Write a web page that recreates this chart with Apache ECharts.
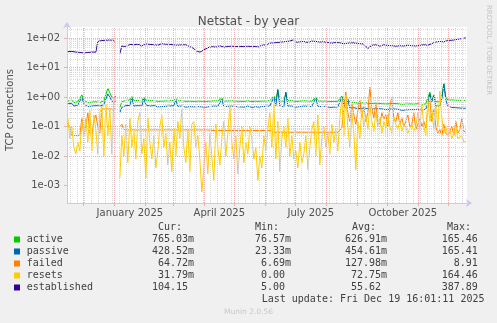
<!DOCTYPE html>
<html>
<head>
<meta charset="utf-8">
<script src="https://cdn.jsdelivr.net/npm/echarts@6/dist/echarts.min.js"></script>
<style>
  html, body { margin: 0; padding: 0; background: #f0f0f0; }
  #chart { width: 497px; height: 323px; }
</style>
</head>
<body>
<div id="chart"></div>
<script>
// Netstat yearly graph: one sample every two days, log-scaled connection counts.
const seriesNames = ['active', 'passive', 'failed', 'resets', 'established'];
const seriesColors = ['#00cc00', '#0066b3', '#ff8000', '#ffcc00', '#330099'];

const firstSample = Date.UTC(2024, 10, 15, 12);
const stepDays = 2;
const rangeStart = Date.UTC(2024, 10, 14, 16);
const rangeEnd = Date.UTC(2025, 11, 19, 16);

const active = [
  0.75,0.68,0.8,0.65,0.72,0.7,0.8,
  1.2,
  0.8,0.7,0.65,0.72,0.68,0.75,0.7,0.78,0.66,0.7,0.75,0.8,
  2.0,1.4,1.0,0.85,1.1,
  null,
  0.45,0.7,
  0.75,0.78,0.72,0.8,1.05,0.76,0.74,0.78,0.72,0.75,
  1.0,0.8,0.74,0.77,0.73,0.78,0.75,0.72,0.76,0.74,
  0.78,0.75,0.72,0.76,0.74,0.78,0.92,0.75,0.73,0.77,
  0.74,0.72,0.76,0.74,0.75,
  0.72,0.7,0.74,0.71,0.73,0.7,0.72,0.75,
  0.74,0.72,0.76,0.73,0.75,0.72,0.95,0.74,0.71,0.75,
  0.73,0.76,0.72,0.74,0.77,0.73,0.75,0.72,0.74,0.76,
  0.73,0.71,0.75,0.74,0.72,0.76,
  0.74,0.72,0.75,0.73,0.76,0.74,1.1,0.78,1.8,0.76,
  0.75,0.73,1.4,0.76,0.74,0.77,0.75,0.72,0.76,0.74,
  0.73,0.76,0.74,0.75,0.72,0.74,0.76,1.0,0.75,0.73,
  0.74,0.72,0.75,0.73,0.71,0.74,0.72,0.7,0.73,0.71,
  1.1,0.75,0.68,0.9,0.66,0.64,0.67,0.65,0.63,0.66,
  0.64,0.62,0.65,0.63,0.61,0.64,0.62,0.6,0.63,0.61,
  0.6,0.62,0.59,0.61,0.6,0.58,0.61,0.59,0.6,0.58,
  0.57,0.6,0.58,0.56,0.59,0.57,0.58,0.56,0.6,0.57,
  0.55,0.58,0.6,
  0.7,1.5,0.8,1.2,0.7,0.65,0.7,1.0,3.0,1.0,
  0.8,0.78,0.8,0.77,0.79,0.8,0.78,0.79,0.77,0.76503
];

const passive = [
  0.6,0.55,0.62,0.5,0.56,0.54,0.62,
  1.0,
  0.6,0.52,0.48,0.55,0.5,0.57,0.52,0.6,0.5,0.53,0.56,0.6,
  1.3,1.0,0.75,0.62,0.8,
  null,
  0.3,0.45,
  0.5,0.52,0.48,0.53,0.95,0.5,0.48,0.52,0.47,0.5,
  0.9,0.55,0.48,0.5,0.47,0.52,0.49,0.47,0.5,0.48,
  0.52,0.49,0.46,0.5,0.48,0.52,0.8,0.49,0.47,0.5,
  0.48,0.46,0.5,0.48,0.49,
  0.47,0.45,0.48,0.46,0.47,0.45,0.46,0.49,
  0.48,0.46,0.5,0.47,0.49,0.46,0.85,0.48,0.45,0.49,
  0.47,0.5,0.46,0.48,0.5,0.47,0.49,0.46,0.48,0.5,
  0.47,0.45,0.49,0.48,0.46,0.5,
  0.48,0.46,0.49,0.47,0.5,0.48,1.0,0.52,1.8,0.5,
  0.49,0.47,1.5,0.5,0.48,0.5,0.49,0.46,0.5,0.48,
  0.47,0.5,0.48,0.49,0.46,0.48,0.5,0.95,0.49,0.47,
  0.48,0.46,0.49,0.47,0.45,0.48,0.46,0.45,0.47,0.45,
  1.0,0.55,0.44,0.8,0.43,0.42,0.44,0.42,0.41,0.43,
  0.42,0.4,0.42,0.41,0.39,0.41,0.4,0.38,0.41,0.39,
  0.4,0.41,0.38,0.4,0.39,0.37,0.4,0.38,0.39,0.37,
  0.36,0.39,0.37,0.36,0.38,0.37,0.38,0.36,0.39,0.37,
  0.36,0.38,0.4,
  0.6,1.3,0.7,1.1,0.5,0.45,0.5,0.9,2.8,0.8,
  0.5,0.44,0.45,0.43,0.44,0.45,0.43,0.44,0.42,0.42852
];

const failed = [
  0.13,0.1,
  0.05,0.05,0.05,0.05,0.05,
  0.2,0.05,0.1,0.3,0.06,0.05,0.15,0.25,0.1,0.06,
  0.4,0.4,0.4,0.4,0.4,0.4,0.4,0.4,
  null,
  0.1,0.12,0.08,
  0.078,0.078,0.078,0.078,0.078,0.078,0.078,0.078,0.078,0.078,
  0.078,0.078,0.078,0.078,0.078,0.078,0.078,0.078,0.078,0.078,
  0.078,0.078,0.078,0.078,0.078,0.078,0.078,0.078,0.078,0.078,
  0.078,0.078,0.078,0.078,0.078,0.078,0.078,0.078,0.078,0.078,
  0.078,0.078,
  0.074,0.074,0.074,0.074,0.074,0.074,0.074,0.074,0.074,0.074,
  0.074,0.074,0.074,0.074,0.074,0.074,0.074,0.074,0.074,0.074,
  0.074,0.074,0.074,0.074,0.074,0.074,0.074,0.074,0.074,0.074,
  0.074,0.074,
  0.065,0.065,0.065,0.065,0.065,0.065,0.065,0.065,0.065,0.065,
  0.065,0.065,0.065,0.065,0.065,0.065,0.065,0.065,0.065,0.065,
  0.065,0.065,0.065,0.065,0.065,0.065,0.065,0.065,0.065,0.065,
  0.065,0.065,0.065,0.065,
  0.09,0.4,1.5,0.3,0.15,0.6,0.25,0.12,0.35,0.8,
  0.2,0.5,0.15,0.3,2.2,0.4,0.2,0.6,0.15,0.12,
  0.3,0.18,0.25,0.1,0.5,1.0,0.2,0.15,0.3,0.12,
  0.2,0.1,0.15,0.25,0.1,0.12,0.3,0.08,0.12,0.2,
  0.1,0.15,0.09,0.4,0.8,0.15,
  0.4,0.1,0.06,0.08,0.05,0.12,0.06,0.05,0.07,0.1,
  0.05,0.15,0.06,0.08,0.2,0.07,0.06472
];

const resets = [
  0.2,0.04,0.1,0.02,0.012,0.03,0.015,0.15,0.06,0.2,
  0.03,0.35,0.015,0.25,0.08,0.012,0.3,0.5,0.01,0.6,
  0.05,0.4,0.012,0.7,0.9,null,0.0018,0.05,0.01,0.12,
  0.006,0.2,0.02,0.08,0.008,0.15,0.3,0.012,0.04,0.0018,
  0.2,0.03,0.008,0.05,0.004,0.015,0.1,0.25,0.02,0.06,
  0.005,0.03,0.003,0.09,0.01,0.15,0.04,0.4,0.02,0.006,
  0.08,0.003,0.12,0.15,0.02,0.05,0.008,0.0006,0.004,0.03,
  0.0025,0.06,0.01,0.0015,0.12,0.02,0.005,0.04,0.15,0.01,
  0.06,0.5,0.03,0.008,0.05,0.0025,0.02,0.1,0.006,0.03,
  0.012,0.1,0.04,0.008,0.02,0.0015,0.01,0.004,0.05,0.015,
  0.08,0.3,0.02,0.6,0.008,0.15,0.003,0.04,0.1,0.02,
  0.2,0.01,0.05,0.008,0.015,0.004,0.03,0.006,0.012,0.05,
  0.0035,0.02,0.08,0.15,0.01,0.25,0.005,0.04,0.1,0.02,
  0.06,0.012,0.12,0.03,0.08,0.015,0.2,0.9,0.05,1.2,
  0.1,0.02,0.3,0.06,0.0035,0.15,0.04,0.4,0.1,0.25,
  0.08,0.5,0.15,0.07,0.3,0.1,0.2,0.06,0.15,0.09,
  0.25,0.1,0.06,0.2,0.12,0.08,0.15,0.07,0.12,0.1,
  0.06,0.09,0.12,0.07,0.1,0.3,0.08,0.6,0.1,0.05,
  0.8,0.15,0.4,0.08,0.5,0.1,1.6,0.2,0.06,0.1,
  0.05,0.08,0.04,0.06,0.1,0.04,0.035,0.05,0.03,0.03179
];

const established = [
  35,33,36,32,34,31,33,35,32,30,33,31,34,36,34,
  78,70,84,76,86,74,88,80,85,75,
  null,
  30,55,
  60,52,58,62,55,60,57,63,58,55,
  60,64,58,62,56,60,65,58,62,66,
  60,63,58,62,66,60,64,58,62,60,
  56,60,55,52,54,
  45,38,35,34,36,40,44,48,
  50,52,55,50,54,56,52,50,55,53,
  50,54,57,52,50,53,55,52,50,54,
  56,52,55,53,50,56,
  58,62,60,65,68,64,70,66,72,68,
  75,72,78,70,80,75,90,74,70,76,
  72,78,74,72,76,80,74,78,72,75,
  80,76,74,72,70,68,70,72,66,70,
  68,65,72,68,66,70,64,68,72,66,70,64,62,
  45,52,
  58,55,60,56,54,58,60,55,57,52,
  56,60,54,58,56,52,55,60,58,54,
  56,60,55,62,58,56,60,64,58,62,
  66,60,
  75,85,78,82,76,80,84,
  80,86,82,90,88,95,92,100,104.15
];

const seriesValues = [active, passive, failed, resets, established];

// Summary columns shown under the plot
const minValues = [0.07657, 0.02333, 0.00669, 0, 5.0];
const avgValues = [0.62691, 0.45461, 0.12798, 0.07275, 55.62];
const maxValues = [165.46, 165.41, 8.91, 164.46, 387.89];
const lastUpdate = 'Last update: Fri Dec 19 16:01:11 2025';

// Axis ticks and labels
const yTickValues = [1e-3, 1e-2, 1e-1, 1, 10, 100];
const yTickLabels = ['1e-03', '1e-02', '1e-01', '1e+00', '1e+01', '1e+02'];
const xLabelMonths = [[2025, 0], [2025, 3], [2025, 6], [2025, 9]];
const xTickLabels = ['January 2025', 'April 2025', 'July 2025', 'October 2025'];

const DAY = 86400000;
const yMin = 2.57e-4, yMax = 241.5;

// month boundaries for the major grid
const monthStarts = [];
for (let y = 2024, m = 11; ; m++) {
  if (m > 11) { m = 0; y++; }
  const t = Date.UTC(y, m, 1);
  if (t >= rangeEnd) break;
  monthStarts.push(t);
}
// weekly minor grid (Mondays)
const weekStarts = [];
for (let t = Date.UTC(2024, 10, 18); t < rangeEnd; t += 7 * DAY) weekStarts.push(t);
// label positions: middle of the labelled month
const xLabelPos = xLabelMonths.map(([y, m]) => (Date.UTC(y, m, 1) + Date.UTC(y, m + 1, 1)) / 2);

// minor horizontal grid: 2..9 of every decade
const minorY = [];
for (let e = -4; e <= 2; e++) {
  for (let k = 2; k <= 9; k++) {
    const v = k * Math.pow(10, e);
    if (v > yMin && v < yMax) minorY.push(v);
  }
}

function siFormat(v) {
  if (v === 0) return '0.00 ';
  if (v < 1) return (Math.round(v * 100000) / 100).toFixed(2) + 'm';
  return (Math.round(v * 100) / 100).toFixed(2) + ' ';
}

function gridLines(name, xs, ys, color, z) {
  return {
    type: 'line', name, data: [], silent: true, z,
    markLine: {
      silent: true, animation: false, symbol: ['none', 'none'],
      label: { show: false },
      emphasis: { disabled: true },
      lineStyle: { color, width: 1, type: [1, 1] },
      data: xs.map(x => ({ xAxis: x })).concat(ys.map(y => ({ yAxis: y })))
    }
  };
}

const dataSeries = seriesNames.map((name, s) => ({
  type: 'line',
  name,
  z: 3,
  showSymbol: false,
  connectNulls: false,
  animation: false,
  silent: true,
  lineStyle: { color: seriesColors[s], width: 1 },
  itemStyle: { color: seriesColors[s] },
  data: seriesValues[s].map((v, i) => [firstSample + i * stepDays * DAY, v])
}));

// legend block
const mono = '10px "DejaVu Sans Mono"';
const textColor = '#404040';
const rowY = [239.5, 251.5, 263.5, 275.5, 287.5];
const colStart = [152, 249, 345, 441.7];
const headers = ['Cur:', 'Min:', 'Avg:', 'Max:'];
const headerX = [158, 255, 352, 447];
const graphics = [];
function addText(x, y, text, font, fill, align) {
  graphics.push({ type: 'text', x, y, silent: true,
    style: { text, font, fill, textAlign: align || 'left', textVerticalAlign: 'middle' } });
}
headers.forEach((h, c) => addText(headerX[c], 227.5, h, mono, textColor));
seriesNames.forEach((name, s) => {
  const y = rowY[s];
  graphics.push({ type: 'rect', silent: true, shape: { x: 14, y: y - 3, width: 6, height: 6 },
    style: { fill: seriesColors[s] } });
  addText(26.7, y, name, mono, textColor);
  const vals = seriesValues[s];
  const cols = [vals[vals.length - 1], minValues[s], avgValues[s], maxValues[s]];
  cols.forEach((v, c) => addText(colStart[c], y, siFormat(v).padStart(7, ' '), mono, textColor));
});
addText(261.7, 299.5, lastUpdate, mono, textColor);
addText(248.5, 312, 'Munin 2.0.56', '7.5px "DejaVu Sans"', '#c8c8c8', 'center');
graphics.push({ type: 'text', x: 489, y: 5, rotation: -Math.PI / 2, silent: true,
  style: { text: 'RRDTOOL / TOBI OETIKER', font: '7px "DejaVu Sans"', fill: '#c4c4c4',
    textAlign: 'left', textVerticalAlign: 'middle' } });

const axisColor = '#c8c8f0';
const option = {
  backgroundColor: '#f0f0f0',
  animation: false,
  title: {
    text: 'Netstat - by year', left: 'center', top: 11,
    textStyle: { fontFamily: 'DejaVu Sans', fontSize: 12, fontWeight: 'normal', color: '#505050' }
  },
  grid: { left: 67, right: 30, top: 27, bottom: 120, show: true, backgroundColor: '#ffffff', borderWidth: 0,
    containLabel: false, outerBoundsMode: 'none' },
  xAxis: {
    type: 'value', min: rangeStart, max: rangeEnd,
    axisLine: { show: true, lineStyle: { color: axisColor, width: 1 },
      symbol: ['none', 'arrow'], symbolSize: [6, 6], symbolOffset: [0, 5] },
    axisTick: { show: true, customValues: monthStarts, length: 3, lineStyle: { color: '#eab0b0' } },
    axisLabel: {
      customValues: xLabelPos, margin: 5, color: '#505050', fontFamily: 'DejaVu Sans', fontSize: 10,
      formatter: v => { const i = xLabelPos.findIndex(p => Math.abs(p - v) < DAY); return i >= 0 ? xTickLabels[i] : ''; }
    },
    splitLine: { show: false }
  },
  yAxis: {
    type: 'log', logBase: 10, min: yMin, max: yMax,
    name: 'TCP connections', nameLocation: 'middle', nameRotate: 90, nameGap: 52,
    nameTextStyle: { fontFamily: 'DejaVu Sans', fontSize: 10, color: '#505050', padding: [0, 0, 0, 10] },
    axisLine: { show: true, lineStyle: { color: axisColor, width: 1 },
      symbol: ['none', 'arrow'], symbolSize: [6, 6], symbolOffset: [0, 5] },
    axisTick: { show: true, customValues: yTickValues, length: 3, lineStyle: { color: '#eab0b0' } },
    axisLabel: {
      customValues: yTickValues, margin: 7, color: '#505050', fontFamily: 'DejaVu Sans', fontSize: 10,
      formatter: v => { const i = yTickValues.findIndex(t => Math.abs(Math.log10(t) - Math.log10(v)) < 1e-6); return i >= 0 ? yTickLabels[i] : ''; }
    },
    splitLine: { show: false }
  },
  series: [
    gridLines('minor grid', weekStarts, minorY, '#d8d8d8', 1),
    gridLines('major grid', monthStarts, yTickValues, '#eab0b0', 2)
  ].concat(dataSeries),
  graphic: graphics
};

const chart = echarts.init(document.getElementById('chart'), null, { renderer: 'canvas' });
chart.setOption(option);
</script>
</body>
</html>
